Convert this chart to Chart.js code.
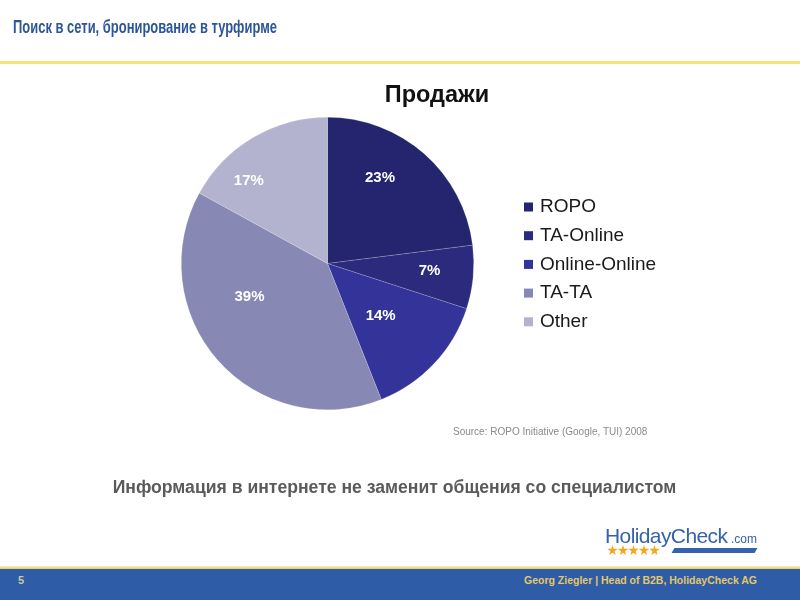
<!DOCTYPE html>
<html>
<head>
<meta charset="utf-8">
<script src="https://cdn.jsdelivr.net/npm/chart.js@4"></script>
<style>
html,body{margin:0;padding:0;background:#fff;}
#wrap{position:relative;width:800px;height:600px;overflow:hidden;font-family:"Liberation Sans",Arial,sans-serif;}
#c{position:absolute;left:0;top:0;}
.t{position:absolute;white-space:nowrap;}
#title{left:13px;top:17px;font-weight:bold;font-size:18px;color:#2e5597;transform-origin:0 0;transform:scaleX(0.72);}
#yline{position:absolute;left:0;top:61px;width:800px;height:3px;background:#fbe07e;}
#ctitle{left:0;width:874px;text-align:center;top:81px;font-weight:bold;font-size:23.5px;color:#111;}
#source{left:453px;top:426px;font-size:10px;color:#8a8a8a;}
#sub{left:0;width:789px;text-align:center;top:477px;font-weight:bold;font-size:17.6px;color:#5a5a5a;}
#fline{position:absolute;left:0;top:566px;width:800px;height:3px;background:linear-gradient(#fff1b0,#e8c860);}
#fband{position:absolute;left:0;top:569px;width:800px;height:31px;background:#2e5ca6;}
#pg{left:18px;top:574px;font-weight:bold;font-size:11px;color:#c9c7a8;}
#foot{left:0;width:757px;text-align:right;top:574px;font-weight:bold;font-size:10.5px;color:#e3c76a;}
.hc{position:absolute;left:605px;top:525px;font-size:21px;line-height:21px;color:#3562ad;letter-spacing:-0.6px;white-space:nowrap;}
.com{position:absolute;left:731px;top:533px;font-size:12px;line-height:12px;color:#3562ad;white-space:nowrap;}
.star{position:absolute;top:545px;width:11px;height:11px;background:#f2a81d;clip-path:polygon(50% 0%,61% 35%,98% 35%,68% 57%,79% 91%,50% 70%,21% 91%,32% 57%,2% 35%,39% 35%);}
.bar{position:absolute;left:673px;top:548px;width:83px;height:5px;background:#3562ad;transform:skewX(-30deg);}
</style>
</head>
<body>
<div id="wrap">
<canvas id="c" width="800" height="600"></canvas>
<div class="t" id="title">Поиск в сети, бронирование в турфирме</div>
<div id="yline"></div>
<div class="t" id="ctitle">Продажи</div>
<div class="t" id="source">Source: ROPO Initiative (Google, TUI) 2008</div>
<div class="t" id="sub">Информация в интернете не заменит общения со специалистом</div>
<span class="hc">HolidayCheck</span><span class="com">.com</span>
<div class="star" style="left:607px"></div><div class="star" style="left:617.5px"></div><div class="star" style="left:628px"></div><div class="star" style="left:638.5px"></div><div class="star" style="left:649px"></div>
<div class="bar"></div>
<div id="fline"></div>
<div id="fband"></div>
<div class="t" id="pg">5</div>
<div class="t" id="foot">Georg Ziegler | Head of B2B, HolidayCheck AG</div>
</div>
<script>
const categories = ["ROPO", "TA-Online", "Online-Online", "TA-TA", "Other"];
const shares = [23, 7, 14, 39, 17];
const sliceColors = ["#25246e", "#2b2a7c", "#33339a", "#8888b4", "#b3b3cf"];

const labelPlugin = {
  id: "sliceLabels",
  afterDatasetsDraw(chart) {
    const ctx = chart.ctx;
    const meta = chart.getDatasetMeta(0);
    ctx.save();
    ctx.font = "bold 15px 'Liberation Sans', Arial, sans-serif";
    ctx.fillStyle = "#ffffff";
    ctx.textAlign = "center";
    ctx.textBaseline = "middle";
    const fr = [0.685, 0.70, 0.51, 0.58, 0.78];
    const shift = [-9.8, -1.2, 1.3, 18.3, -13];
    meta.data.forEach((arc, i) => {
      const p = arc.getProps(["x", "y", "startAngle", "endAngle", "outerRadius"], true);
      const mid = (p.startAngle + p.endAngle) / 2 + shift[i] * Math.PI / 180;
      const r = p.outerRadius * fr[i];
      ctx.fillText(shares[i] + "%", p.x + Math.cos(mid) * r, p.y + Math.sin(mid) * r);
    });
    ctx.restore();
  }
};

const legendPlugin = {
  id: "sideLegend",
  afterDraw(chart) {
    const ctx = chart.ctx;
    ctx.save();
    ctx.font = "19px 'Liberation Sans', Arial, sans-serif";
    ctx.textBaseline = "middle";
    chart.data.labels.forEach((lab, i) => {
      const y = 207 + i * 28.7;
      ctx.fillStyle = chart.data.datasets[0].backgroundColor[i];
      ctx.fillRect(524, y - 4.5, 9, 9);
      ctx.fillStyle = "#1a1a1a";
      ctx.fillText(lab, 540, y);
    });
    ctx.restore();
  }
};

new Chart(document.getElementById("c"), {
  type: "pie",
  data: {
    labels: categories,
    datasets: [{
      data: shares,
      backgroundColor: sliceColors,
      borderColor: "rgba(255,255,255,0.35)",
      borderWidth: 0.5
    }]
  },
  options: {
    responsive: false,
    animation: false,
    layout: { padding: { left: 181, right: 326, top: 117, bottom: 190 } },
    plugins: { legend: { display: false }, tooltip: { enabled: false }, title: { display: false } }
  },
  plugins: [labelPlugin, legendPlugin]
});
</script>
</body>
</html>
